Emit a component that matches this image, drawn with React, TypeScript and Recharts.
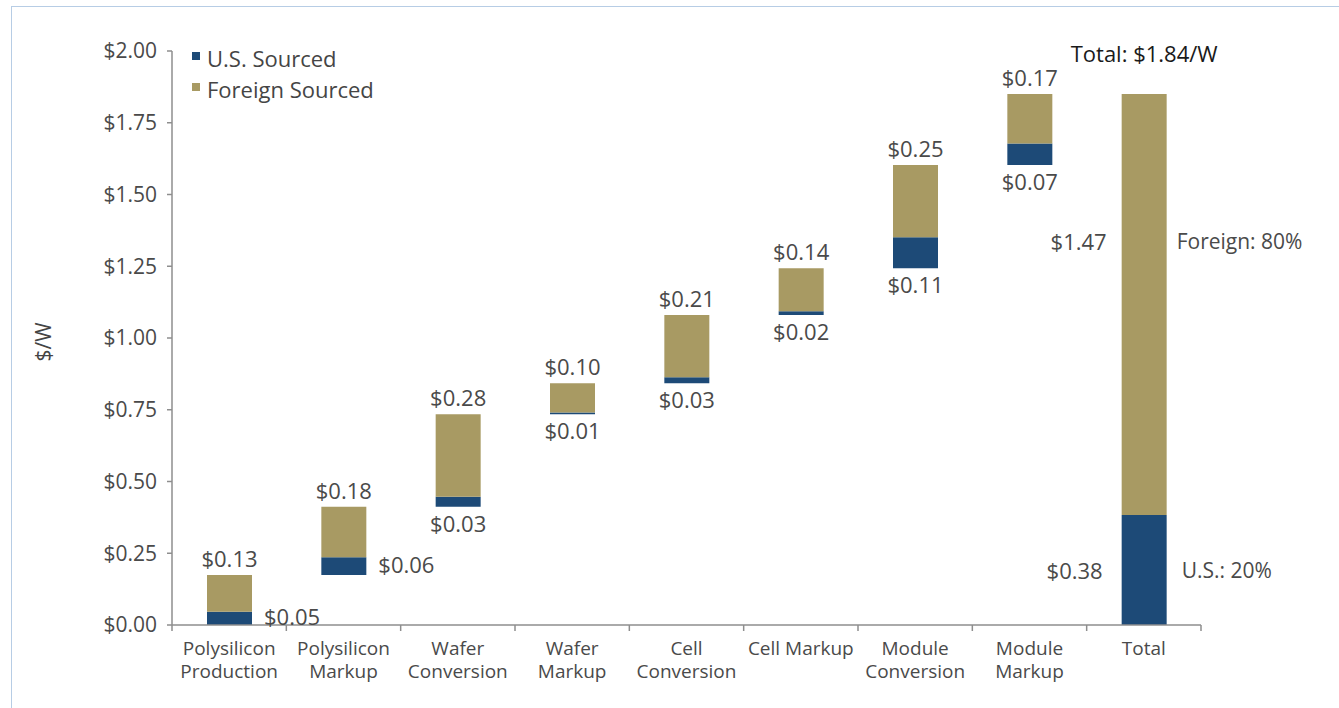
import React from 'react';
import { BarChart, Bar, XAxis, YAxis, Legend, LabelList } from 'recharts';

const categories = [
  'Polysilicon|Production',
  'Polysilicon|Markup',
  'Wafer|Conversion',
  'Wafer|Markup',
  'Cell|Conversion',
  'Cell Markup',
  'Module|Conversion',
  'Module|Markup',
  'Total',
];
const usValues = [0.046, 0.062, 0.035, 0.006, 0.021, 0.013, 0.108, 0.075, 0.383];
const foreignValues = [0.128, 0.176, 0.287, 0.102, 0.217, 0.15, 0.252, 0.172, 1.467];
const usLabels = ['$0.05', '$0.06', '$0.03', '$0.01', '$0.03', '$0.02', '$0.11', '$0.07', '$0.38'];
const foreignLabels = ['$0.13', '$0.18', '$0.28', '$0.10', '$0.21', '$0.14', '$0.25', '$0.17', '$1.47'];
const yTicks = [0, 0.25, 0.5, 0.75, 1.0, 1.25, 1.5, 1.75, 2.0];
const legendOrder = ['us', 'foreign'];
const totalTitle = 'Total: $1.84/W';
const usShare = 'U.S.: 20%';
const foreignShare = 'Foreign: 80%';
const totalIndex = categories.length - 1;

const FONT = '"Open Sans", "Noto Sans", sans-serif';
const BLUE = '#1D4A77';
const TAN = '#A89A63';
const TEXT = '#4A4A4A';
const AXIS = '#8E8E8E';

const data = categories.map((name, i) => {
  const base =
    i === totalIndex
      ? 0
      : usValues.slice(0, i).reduce((a, b) => a + b, 0) + foreignValues.slice(0, i).reduce((a, b) => a + b, 0);
  return { name, base, us: usValues[i], foreign: foreignValues[i] };
});

const CategoryTick = (props: any) => {
  const { x, y, payload, index, width, visibleTicksCount } = props;
  const half = payload && payload.offset ? payload.offset : width / (visibleTicksCount || categories.length) / 2;
  const lines = String(payload.value).split('|');
  return (
    <g>
      <line x1={x - half} x2={x - half} y1={y} y2={y + 6} stroke={AXIS} strokeWidth={1.5} />
      {index === categories.length - 1 && (
        <line x1={x + half} x2={x + half} y1={y} y2={y + 6} stroke={AXIS} strokeWidth={1.5} />
      )}
      {lines.map((l, i) => (
        <text key={i} x={x} y={y + 30 + i * 23} textAnchor="middle" fontFamily={FONT} fontSize={19} fill={TEXT}>
          {l}
        </text>
      ))}
    </g>
  );
};

const UsLabel = (props: any) => {
  const { x, y, width, height, index } = props;
  const common = { fontFamily: FONT, fontSize: 22, fill: TEXT };
  if (index === totalIndex) {
    return (
      <g>
        <text x={x - 19} y={y + height / 2} textAnchor="end" dominantBaseline="central" {...common}>
          {usLabels[index]}
        </text>
        <text x={x + width + 15} y={y + height / 2} textAnchor="start" dominantBaseline="central" {...common} fontSize={21}>
          {usShare}
        </text>
      </g>
    );
  }
  if (index <= 1) {
    return (
      <text x={x + width + 12} y={y + height / 2 - 2} textAnchor="start" dominantBaseline="central" {...common}>
        {usLabels[index]}
      </text>
    );
  }
  return (
    <text x={x + width / 2} y={y + height + 25} textAnchor="middle" {...common}>
      {usLabels[index]}
    </text>
  );
};

const ForeignLabel = (props: any) => {
  const { x, y, width, height, index } = props;
  const common = { fontFamily: FONT, fontSize: 22, fill: TEXT };
  if (index === totalIndex) {
    const ly = y + height * 0.35;
    return (
      <g>
        <text x={x + width / 2} y={y - 32} textAnchor="middle" fontFamily={FONT} fontSize={22} fill="#1a1a1a">
          {totalTitle}
        </text>
        <text x={x - 15} y={ly} textAnchor="end" dominantBaseline="central" {...common}>
          {foreignLabels[index]}
        </text>
        <text x={x + width + 10} y={ly} textAnchor="start" dominantBaseline="central" {...common} fontSize={21}>
          {foreignShare}
        </text>
      </g>
    );
  }
  return (
    <text x={x + width / 2} y={y - 8} textAnchor="middle" {...common}>
      {foreignLabels[index]}
    </text>
  );
};

const renderLegend = (props: any) => {
  const items = (props.payload || [])
    .filter((p: any) => p.type !== 'none' && legendOrder.includes(p.dataKey))
    .sort((a: any, b: any) => legendOrder.indexOf(a.dataKey) - legendOrder.indexOf(b.dataKey));
  return (
    <div style={{ fontFamily: FONT, fontSize: 22, color: '#454545', lineHeight: '31px' }}>
      {items.map((item: any, i: number) => (
        <div key={i} style={{ display: 'flex', alignItems: 'flex-start', height: 31 }}>
          <span
            style={{ display: 'inline-block', width: 8, height: 8, background: item.color, marginTop: 9, marginRight: 7 }}
          />
          <span>{item.value}</span>
        </div>
      ))}
    </div>
  );
};

export default function App() {
  return (
    <div style={{ position: 'absolute', left: 0, top: 0, width: 1339, height: 708, background: '#fff', overflow: 'hidden' }}>
      <div
        style={{
          position: 'absolute',
          left: 11,
          top: 6,
          width: 1339,
          height: 708,
          borderTop: '1px solid #B7CDE5',
          borderLeft: '1px solid #B7CDE5',
        }}
      />
      <BarChart
        width={1339}
        height={708}
        data={data}
        margin={{ top: 51, right: 138, bottom: 23, left: 0 }}
        barSize={45}
        style={{ position: 'absolute', left: 0, top: 0 }}
      >
        <XAxis
          dataKey="name"
          interval={0}
          tickLine={false}
          tickSize={0}
          tickMargin={0}
          height={60}
          axisLine={{ stroke: AXIS, strokeWidth: 1.5 }}
          tick={<CategoryTick />}
        />
        <YAxis
          width={172}
          domain={[0, 2]}
          ticks={yTicks}
          interval={0}
          tickSize={5}
          tickMargin={10}
          axisLine={{ stroke: AXIS, strokeWidth: 1.5 }}
          tickLine={{ stroke: AXIS, strokeWidth: 1.5 }}
          tick={{ fontFamily: FONT, fontSize: 21, fill: TEXT }}
          tickFormatter={(v: number) => '$' + v.toFixed(2)}
          label={{
            content: (p: any) => {
              const vb = p.viewBox || { x: 0, y: 51, width: 172, height: 574 };
              const cx = vb.x + 43;
              const cy = vb.y + vb.height / 2 + 4;
              return (
                <text
                  x={cx}
                  y={cy}
                  transform={`rotate(-90 ${cx} ${cy})`}
                  textAnchor="middle"
                  dominantBaseline="central"
                  fontFamily={FONT}
                  fontSize={21}
                  fill="#444"
                >
                  $/W
                </text>
              );
            },
          }}
        />
        <Legend
          layout="horizontal"
          verticalAlign="middle"
          align="center"
          content={renderLegend}
          wrapperStyle={{ left: 192, top: 43, width: 260, height: 70 }}
        />
        <Bar dataKey="base" stackId="s" fill="transparent" legendType="none" isAnimationActive={false} />
        <Bar dataKey="us" name="U.S. Sourced" stackId="s" fill={BLUE} isAnimationActive={false}>
          <LabelList dataKey="us" content={<UsLabel />} />
        </Bar>
        <Bar dataKey="foreign" name="Foreign Sourced" stackId="s" fill={TAN} isAnimationActive={false}>
          <LabelList dataKey="foreign" content={<ForeignLabel />} />
        </Bar>
      </BarChart>
    </div>
  );
}
